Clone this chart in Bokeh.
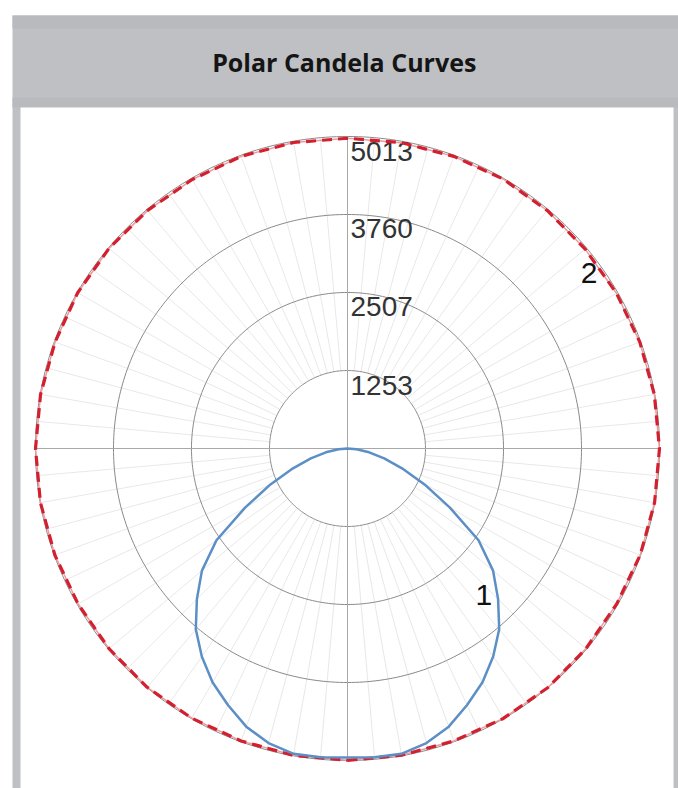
import numpy as np
from bokeh.plotting import figure
from bokeh.models import Range1d
from bokeh.core.properties import value
from bokeh.embed import file_html
from bokeh.resources import INLINE

# ---------------- data ----------------
title_text = "Polar  Candela Curves"
ring_values = [1253, 2507, 3760, 5013]
ring_labels = ["1253", "2507", "3760", "5013"]

# series 1 (blue), angle from nadir in degrees, symmetric on both sides
s1_angles = [0, 5, 10, 15, 20, 25, 30, 35, 40, 45, 50, 55, 60, 65, 70, 75, 80, 85, 90]
s1_cd = [4965, 4981, 4981, 4900, 4756, 4547, 4338, 4081, 3792, 3422, 3053, 2570,
         1900, 1366, 932, 610, 353, 145, 0]

# series 2 (red dashed), all around
s2_angles = [0, 10, 20, 30, 40, 50, 60, 70, 80, 90, 100, 110, 120, 130, 140, 150, 160, 170,
             180, 190, 200, 210, 220, 230, 240, 250, 260, 270, 280, 290, 300, 310, 320, 330, 340, 350]
s2_cd = [5010, 5005, 5000, 5008, 5013, 5002, 4995, 5005, 5010, 5013, 5006, 4998, 4990, 4985, 4992, 5000, 4995, 4990,
         4985, 4992, 4996, 4990, 4995, 5002, 5006, 5000, 5008, 5013, 5010, 5004, 4998, 5003, 5008, 5004, 5000, 5006]

curve_labels = ["1", "2"]
curve_label_angle = [43, 126]
curve_label_cd = [3210, 4800]

# ---------------- geometry ----------------
R_PX = 312.0
k = ring_values[-1] / R_PX          # candela per pixel
CX, CY = 347, 448                    # centre on page
W, H = 678, 788
OX, OY = 0, 0                        # page position of the figure

def X(px):
    return (px - CX) * k

def Y(py):
    return (CY - py) * k

p = figure(width=W, height=H, output_backend="svg", toolbar_location=None,
           x_range=Range1d(X(OX), X(OX + W)), y_range=Range1d(Y(OY + H), Y(OY)),
           min_border=0, outline_line_color=None)
p.axis.visible = False
p.grid.visible = False
p.background_fill_color = "white"
p.border_fill_color = "white"

# frame / title bar
p.quad(left=[X(12)], right=[X(678)], top=[Y(15)], bottom=[Y(800)], fill_color="#bec0c3", line_color=None)
p.quad(left=[X(12)], right=[X(678)], top=[Y(15)], bottom=[Y(28)], fill_color="#b8babd", line_color=None)
p.quad(left=[X(12)], right=[X(678)], top=[Y(97)], bottom=[Y(107)], fill_color="#b8babd", line_color=None)
p.quad(left=[X(20)], right=[X(673)], top=[Y(107)], bottom=[Y(800)], fill_color="white", line_color=None)

p.text(x=[X(347)], y=[Y(61)], text=[title_text], text_align="center", text_baseline="middle",
       text_font=value("Open Sans"), text_font_style="bold", text_font_size="25px", text_color="#151515")

# spokes every 5 degrees
spoke_deg = np.arange(0, 360, 5)
xs, ys = [], []
for a in spoke_deg:
    t = np.radians(a)
    xs.append([ring_values[0] * np.sin(t), ring_values[-1] * np.sin(t)])
    ys.append([-ring_values[0] * np.cos(t), -ring_values[-1] * np.cos(t)])
p.multi_line(xs, ys, line_color="#e8e8e8", line_width=1)

# rings
th = np.radians(np.linspace(0, 360, 361))
for rv in ring_values:
    p.line(rv * np.sin(th), -rv * np.cos(th), line_color="#8a8a8a", line_width=1)

# axes lines
rmax = ring_values[-1]
p.line([0, 0], [-rmax, rmax], line_color="#a8a8a8", line_width=1)
p.line([-rmax, rmax], [0, 0], line_color="#a8a8a8", line_width=1)

# ring labels
p.text(x=[0] * 4, y=ring_values, text=ring_labels, x_offset=3, y_offset=5,
       text_align="left", text_baseline="top", text_font=value("Liberation Sans"),
       text_font_size="28px", text_color="#333333")

# series 2
a2 = np.radians(np.array(s2_angles + [s2_angles[0] + 360]))
r2 = np.array(s2_cd + [s2_cd[0]])
p.line(r2 * np.sin(a2), -r2 * np.cos(a2), line_color="#ec9aa0", line_width=1.5)
p.line(r2 * np.sin(a2), -r2 * np.cos(a2), line_color="#d41f2e", line_width=3.2, line_dash="10 6")

# series 1 (mirror for both halves)
ang1 = np.array([-a for a in s1_angles[::-1]] + s1_angles[1:], dtype=float)
cd1 = np.array(s1_cd[::-1] + s1_cd[1:], dtype=float)
t1 = np.radians(ang1)
p.line(cd1 * np.sin(t1), -cd1 * np.cos(t1), line_color="#5b8fc6", line_width=2.5)

# curve labels
la = np.radians(np.array(curve_label_angle, dtype=float))
lr = np.array(curve_label_cd, dtype=float)
p.text(x=lr * np.sin(la), y=-lr * np.cos(la), text=curve_labels, text_align="center",
       text_baseline="middle", text_font=value("Liberation Sans"), text_font_size="30px",
       text_color="#111111")

open("out.html", "w").write(file_html(p, INLINE))
